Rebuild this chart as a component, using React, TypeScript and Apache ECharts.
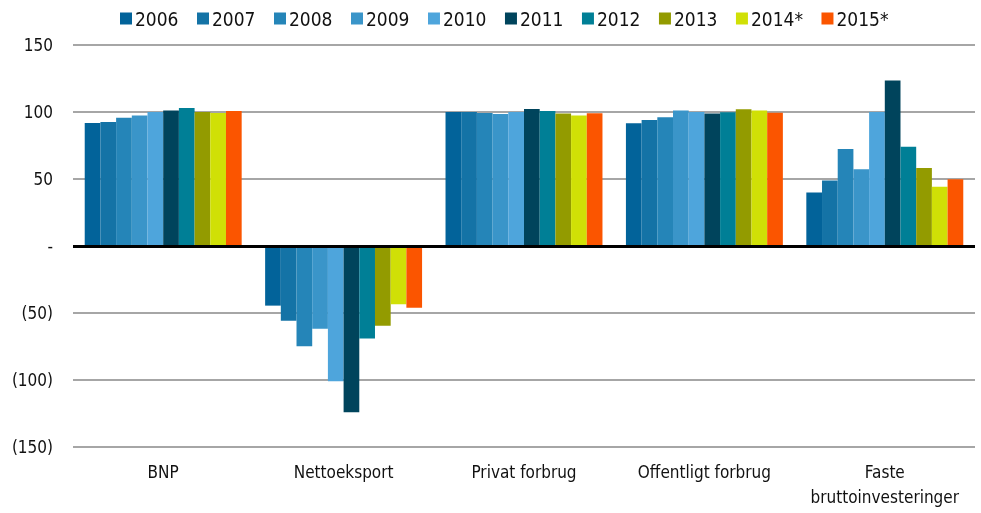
import React, { useEffect, useRef } from "react";
import * as echarts from "echarts";

const categories = ["BNP", "Nettoeksport", "Privat forbrug", "Offentligt forbrug", "Faste\nbruttoinvesteringer"];
const years = ["2006", "2007", "2008", "2009", "2010", "2011", "2012", "2013", "2014*", "2015*"];
const colors = ["#02639a", "#1473a6", "#2585b8", "#3a95c9", "#4ea5dc", "#00445c", "#007f96", "#939b00", "#d0e006", "#fb5500"];

const v2006 = [91.8, -44.5, 100, 91.6, 39.9];
const v2007 = [92.5, -55.7, 100, 94, 48.8];
const v2008 = [95.8, -74.9, 99.3, 96, 72.3];
const v2009 = [97.3, -61.7, 98.5, 101.2, 57.2];
const v2010 = [100, -101, 100, 100, 100];
const v2011 = [101.2, -124, 102.2, 98.8, 123.5];
const v2012 = [103, -69, 100.7, 99.8, 74];
const v2013 = [100, -59.5, 98.8, 102, 58.2];
const v2014 = [99.3, -43.5, 97.3, 101.2, 44.3];
const v2015 = [100.7, -46, 99, 99.5, 49.8];
const seriesValues = [v2006, v2007, v2008, v2009, v2010, v2011, v2012, v2013, v2014, v2015];

const FONT = "'DejaVu Sans Condensed', 'Liberation Sans', sans-serif";

export default function App() {
  const ref = useRef<HTMLDivElement>(null);
  useEffect(() => {
    if (!ref.current) return;
    const chart = echarts.init(ref.current, null, { renderer: "svg" });
    chart.setOption({
      animation: false,
      textStyle: { fontFamily: FONT },
      legend: {
        top: 4,
        left: 115,
        itemWidth: 12,
        itemHeight: 12,
        itemGap: 18.5,
        icon: "rect",
        textStyle: { fontSize: 19, color: "#111", fontFamily: FONT, padding: [0, 0, 0, -2] },
        data: years,
      },
      grid: { left: 73, right: 6, top: 45, bottom: 66, containLabel: false },
      xAxis: {
        type: "category",
        data: categories,
        axisLine: { show: false, onZero: false },
        axisTick: { show: false },
        axisLabel: { interval: 0, margin: 12, fontSize: 17, color: "#111", lineHeight: 25, fontFamily: FONT },
      },
      yAxis: {
        type: "value",
        min: -150,
        max: 150,
        interval: 50,
        axisLine: { show: false },
        axisTick: { show: false },
        axisLabel: {
          margin: 20,
          fontSize: 17,
          color: "#111",
          fontFamily: FONT,
          formatter: (v: number) => (v === 0 ? "-" : v < 0 ? `(${-v})` : `${v}`),
        },
        splitLine: { lineStyle: { color: "#a6a6a6", width: 2 } },
      },
      series: years.map((y, i) => ({
        name: y,
        type: "bar",
        data: seriesValues[i],
        barGap: "0%",
        barCategoryGap: "13%",
        itemStyle: { color: colors[i] },
        markLine:
          i === 0
            ? {
                silent: true,
                symbol: "none",
                label: { show: false },
                lineStyle: { color: "#000", width: 3, type: "solid" },
                data: [{ yAxis: 0 }],
              }
            : undefined,
      })),
    });
    return () => chart.dispose();
  }, []);
  return <div ref={ref} style={{ position: "fixed", left: 0, top: 0, width: 981, height: 513 }} />;
}
